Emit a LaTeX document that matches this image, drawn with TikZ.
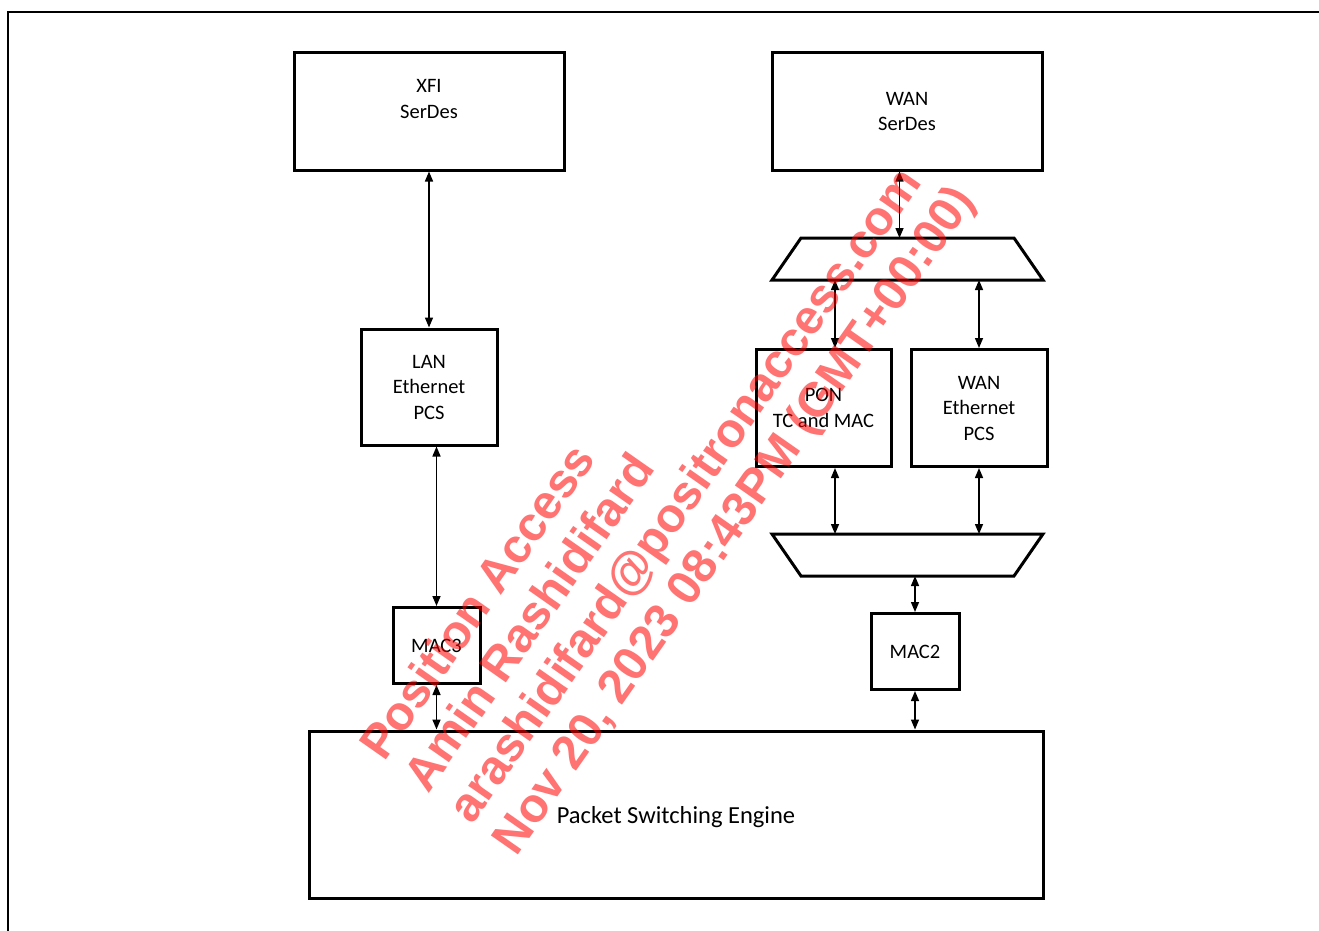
\documentclass[tikz,border=0pt]{standalone}
\usepackage{fontspec}
\setmainfont{Carlito}
\newfontfamily\wmfont{Liberation Sans}
\usetikzlibrary{arrows.meta}

\begin{document}
\begin{tikzpicture}[x=1pt,y=-1pt,
  blk/.style={draw, line width=3pt, rectangle, inner sep=0pt, align=center,
    font=\fontsize{20.5}{25.5}\selectfont},
  muxbox/.style={rectangle, draw=none, inner sep=0pt, outer sep=0pt,
    minimum width=271pt, minimum height=42pt},
  muxline/.style={line width=3pt, line join=miter},
  link/.style={line width=1.5pt,
    {Triangle[length=10pt,width=8pt]}-{Triangle[length=10pt,width=8pt]}},
  wm/.style={inner sep=0pt, anchor=base west, rotate=55, text=red,
    text opacity=0.55, font=\wmfont\bfseries\fontsize{48}{55}\selectfont},
]
\useasboundingbox (0,0) rectangle (1319,931);

% page frame
\draw[line width=1.2pt] (8,931) -- (8,12) -- (1319,12);

% blocks
\node[blk, minimum width=270pt, minimum height=117pt] (xfi) at (429,111.5) {XFI\\SerDes\\\mbox{}};
\node[blk, minimum width=270pt, minimum height=117pt] (wanser) at (907,111.5) {WAN\\SerDes};
\node[blk, minimum width=136pt, minimum height=116pt] (lan) at (429,387) {LAN\\Ethernet\\PCS};
\node[blk, minimum width=87pt, minimum height=76pt] (mac3) at (436.5,645.5) {MAC3};
\node[blk, minimum width=734pt, minimum height=167pt,
  font=\fontsize{24.5}{29}\selectfont] (pse) at (676,814.5)
  {\raisebox{-8.5pt}[0pt][0pt]{Packet Switching Engine}};
\node[blk, minimum width=135pt, minimum height=117pt] (pon) at (823.5,408) {PON\\TC and MAC};
\node[blk, minimum width=136pt, minimum height=117pt] (wanpcs) at (979,408) {WAN\\Ethernet\\PCS};
\node[blk, minimum width=88pt, minimum height=76pt] (mac2) at (915,651.5) {MAC2};

% multiplexers
\node[muxbox] (muxup) at (907.5,259) {};
\node[muxbox] (muxdn) at (907.5,555) {};
\draw[muxline] ([xshift=29pt]muxup.north west) -- ([xshift=-29pt]muxup.north east)
  -- (muxup.south east) -- (muxup.south west) -- cycle;
\draw[muxline] (muxdn.north west) -- (muxdn.north east)
  -- ([xshift=-29pt]muxdn.south east) -- ([xshift=29pt]muxdn.south west) -- cycle;

% connectors
\draw[link] (xfi) -- (lan);
\draw[link] (lan.south -| mac3.north) -- (mac3.north);
\draw[link] (mac3.south) -- (mac3.south |- pse.north);
\draw[link] ([xshift=-7.5pt]wanser.south) -- ([xshift=-7.5pt]wanser.south |- muxup.north);
\draw[link] ([xshift=11.5pt]pon.north |- muxup.south) -- ([xshift=11.5pt]pon.north);
\draw[link] (wanpcs.north |- muxup.south) -- (wanpcs.north);
\draw[link] ([xshift=11.5pt]pon.south) -- ([xshift=11.5pt]pon.south |- muxdn.north);
\draw[link] (wanpcs.south) -- (wanpcs.south |- muxdn.north);
\draw[link] (mac2.north |- muxdn.south) -- (mac2.north);
\draw[link] (mac2.south) -- (mac2.south |- pse.north);

% watermark
\node[wm] (wm1) at (384,763) {Position Access};
\node[wm] (wm2) at (428,794.5) {Amin Rashidifard};
\node[wm] (wm3) at (472,826) {arashidifard@positronaccess.com};
\node[wm] (wm4) at (516,857.5) {Nov 20, 2023 08:43PM (GMT+00:00)};
\end{tikzpicture}
\end{document}
